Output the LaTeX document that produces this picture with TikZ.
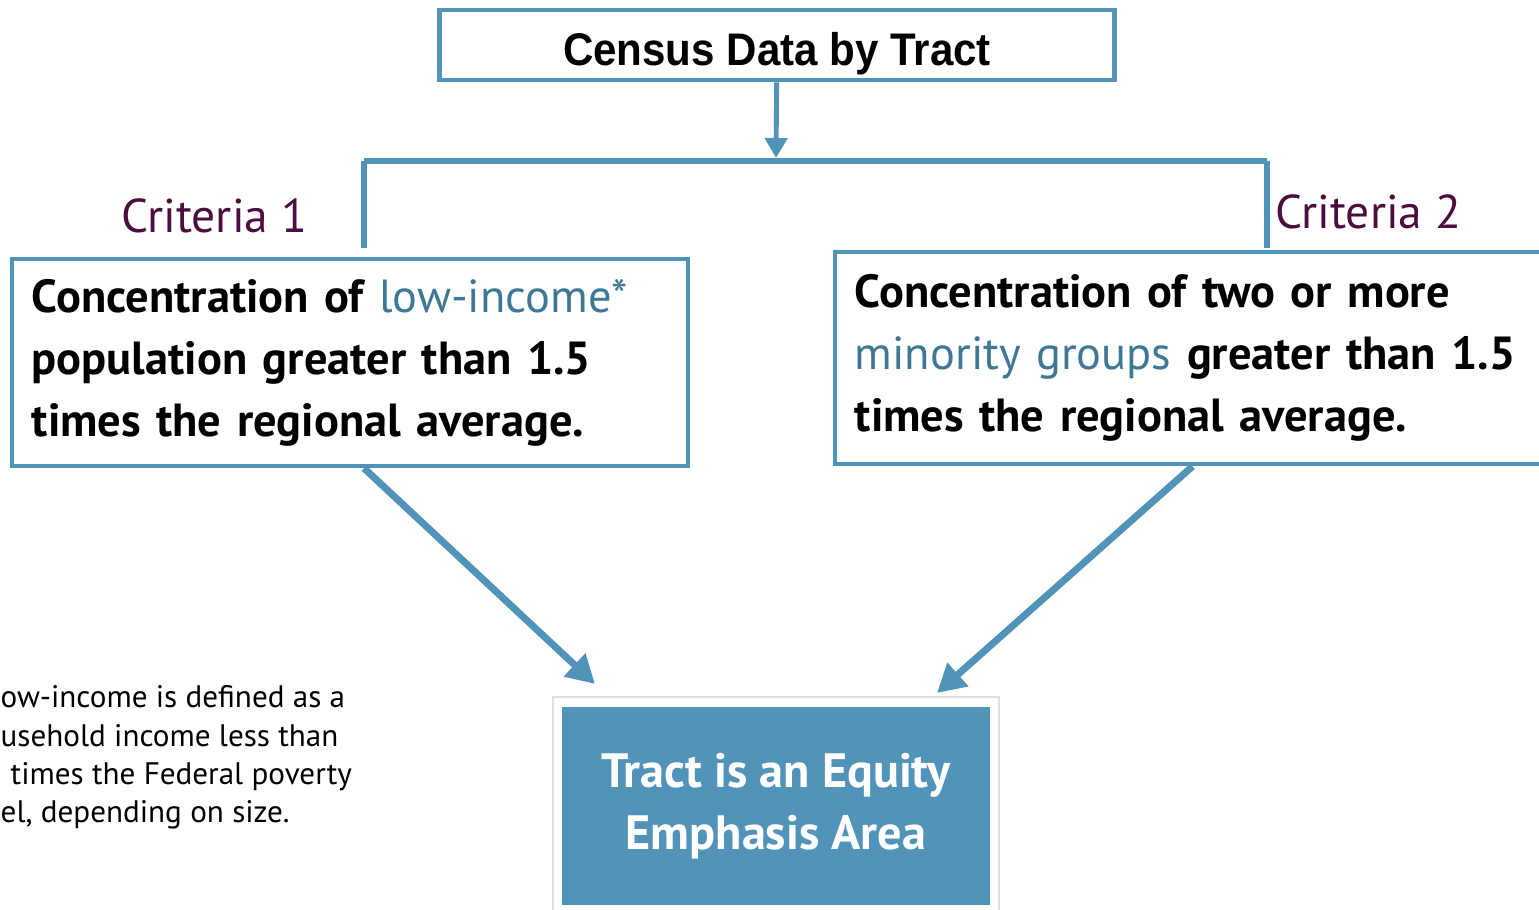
\documentclass[tikz,border=0pt]{standalone}
\usepackage{fontspec}
\setmainfont{PT Sans}
\newfontfamily\titlefont[FakeStretch=0.92]{Liberation Sans}
\usetikzlibrary{arrows.meta}
\definecolor{tractblue}{HTML}{5294B9}
\definecolor{linkteal}{HTML}{3E7894}
\definecolor{critpurple}{HTML}{4C0D3F}
\tikzset{
	titlebox/.style={draw=tractblue, line width=1.3pt, fill=white, inner sep=0pt, minimum width=6.75cm, minimum height=0.70cm, font=\titlefont\bfseries\fontsize{13}{15}\selectfont},
	critbox/.style={draw=tractblue, line width=1.3pt, fill=white, inner sep=0.2cm, align=left, font=\bfseries\fontsize{13.2}{17.6}\selectfont},
	critlabel/.style={text=critpurple, inner sep=0pt, font=\fontsize{13.5}{15}\selectfont},
	resultbox/.style={fill=tractblue, text=white, inner sep=0pt, align=center, minimum width=4.28cm, minimum height=1.98cm, font=\bfseries\fontsize{13.7}{17.6}\selectfont},
	flowarrow/.style={draw=tractblue, line width=2pt, -{Triangle[width=0.3cm,length=0.28cm]}},
	branch/.style={draw=tractblue, line width=1.5pt}
}
\begin{document}
\begin{tikzpicture}[x=0.01cm, y=-0.01cm]
			%%%%% START %%%%%
			\useasboundingbox (0,0) rectangle (1539,910);
			
			\node[titlebox] (census) at (777,45) {\raisebox{-0.2cm}[0pt][0pt]{Census Data by Tract}};
			
			\coordinate (split) at (776,161);
			\coordinate (barL) at (364,161);
			\coordinate (barR) at (1267,161);
			\coordinate (legL) at (364,248);
			\coordinate (legR) at (1267,248);
			
			\draw[draw=tractblue, line width=1.4pt, -{Triangle[width=0.22cm,length=0.2cm]}] (census) -- (776,158);
			\draw[branch, line width=1.7pt] (barL) -- (barR);
			\draw[branch] (legL) -- (barL);
			\draw[branch] (legR) -- (barR);
			
			\node[critlabel] (crit1) at (214,216) {Criteria 1};
			\node[critlabel] (crit2) at (1368,212) {Criteria 2};
			
			\node[critbox, minimum width=6.76cm, minimum height=2.03cm, text width=6.36cm] (lowinc) at (350,362.5)
				{Concentration of \textcolor{linkteal}{\mdseries low-income*}\\population greater than 1.5\\times the regional average.};
			\node[critbox, minimum width=7.15cm, minimum height=2.12cm, text width=6.75cm] (minority) at (1192.5,358)
				{Concentration of two or more\\\textcolor{linkteal}{\mdseries minority groups} greater than 1.5\\times the regional average.};
			
			% result box with white frame
			\draw[draw=black!12, fill=white] (553,697) rectangle (999,915);
			\node[resultbox] (equity) at (776,806) {Tract is an Equity\\Emphasis Area};
			
			\coordinate (inL) at (595,684);
			\coordinate (inR) at (937,693);
			\draw[flowarrow] (lowinc.south -| legL) -- (inL);
			\draw[flowarrow] (minority.south) -- (inR);
			
			\node[anchor=north west, inner sep=0pt, align=left, font=\fontsize{8.85}{10.9}\selectfont] (note) at (0,685)
				{ow-income is defined as a\\usehold income less than\\\hspace{0.1cm}times the Federal poverty\\el, depending on size.};
			
			%%%%% END %%%%%
\end{tikzpicture}
\end{document}
